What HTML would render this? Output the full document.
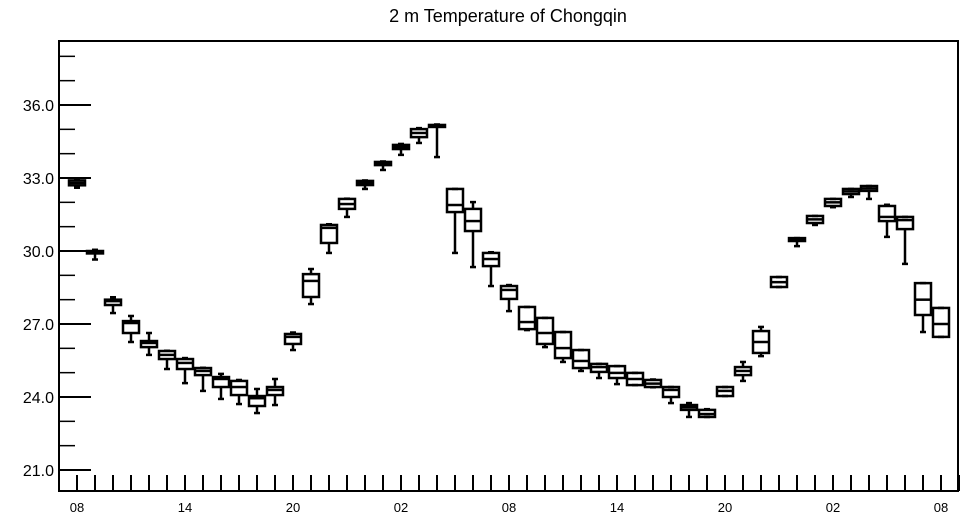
<!DOCTYPE html>
<html><head><meta charset="utf-8"><style>
body{margin:0;background:#fff}
svg{display:block;font-family:"Liberation Sans",Arial,sans-serif}
</style></head><body>
<svg id="chart" width="964" height="520">
<text x="508" y="22" text-anchor="middle" font-size="18">2 m Temperature of Chongqin</text>
<rect x="59" y="41" width="899" height="450" fill="none" stroke="#000" stroke-width="2"/>
<g id="axes"></g>
<g id="boxes"></g>
</svg>
<script>
const hours=[0,1,2,3,4,5,6,7,8,9,10,11,12,13,14,15,16,17,18,19,20,21,22,23,24,25,26,27,28,29,30,31,32,33,34,35,36,37,38,39,40,41,42,43,44,45,46,47,48];
const maxV=[32.95,30.05,28.1,27.33,26.63,25.9,25.6,25.2,24.95,24.7,24.33,24.74,26.65,29.26,31.1,32.15,32.9,33.68,34.4,35.05,35.2,32.55,32.01,29.95,28.6,27.7,27.25,26.67,25.93,25.36,25.27,24.99,24.72,24.41,23.75,23.5,24.41,25.44,26.88,28.93,30.53,31.44,32.14,32.55,32.67,31.9,31.4,28.68,27.66];
const q3V=[32.9,30.0,28.0,27.12,26.3,25.89,25.56,25.19,24.82,24.66,24.04,24.41,26.59,29.05,31.07,32.14,32.88,33.66,34.36,35.01,35.18,32.55,31.73,29.92,28.56,27.7,27.25,26.67,25.93,25.36,25.27,24.99,24.7,24.41,23.67,23.47,24.41,25.23,26.71,28.93,30.53,31.44,32.14,32.55,32.67,31.85,31.4,28.68,27.66];
const medV=[32.8,29.95,27.94,27.04,26.22,25.73,25.4,25.07,24.74,24.41,23.95,24.29,26.47,28.77,30.95,31.93,32.8,33.6,34.28,34.85,35.15,31.89,31.23,29.67,28.4,27.08,26.63,26.01,25.48,25.23,24.99,24.74,24.55,24.29,23.58,23.3,24.25,25.07,26.26,28.72,30.47,31.3,32.0,32.45,32.57,31.4,31.27,28.0,27.0];
const q1V=[32.7,29.9,27.78,26.63,26.05,25.56,25.15,24.9,24.41,24.08,23.63,24.08,26.18,28.11,30.33,31.73,32.71,33.53,34.19,34.68,35.1,31.6,30.82,29.38,28.03,26.79,26.18,25.6,25.19,25.03,24.78,24.49,24.41,24.0,23.47,23.18,24.04,24.9,25.81,28.52,30.41,31.15,31.85,32.34,32.47,31.23,30.9,27.37,26.47];
const minV=[32.6,29.65,27.45,26.26,25.73,25.15,24.57,24.25,23.92,23.71,23.34,23.67,25.93,27.82,29.92,31.4,32.55,33.33,33.95,34.44,33.86,29.92,29.34,28.56,27.53,26.75,26.05,25.44,25.07,24.78,24.53,24.49,24.4,23.75,23.18,23.18,24.04,24.66,25.68,28.52,30.2,31.07,31.8,32.22,32.14,30.58,29.47,26.67,26.47];
const xLabels=["08","14","20","02","08","14","20","02","08"];
const yMajor=[21,24,27,30,33,36];
const NS="http://www.w3.org/2000/svg";
const xs=h=>77+h*18;
const ys=v=>470-(v-21)*(365/15);
function mk(tag,attrs,parent){const e=document.createElementNS(NS,tag);for(const k in attrs)e.setAttribute(k,attrs[k]);parent.appendChild(e);return e;}
const ax=document.getElementById('axes');
for(let v=22;v<=38;v++){if(yMajor.includes(v))continue;
 const t=mk('line',{x1:59,x2:75,y1:ys(v),y2:ys(v),stroke:'#000','stroke-width':1.5},ax);
 
 }
yMajor.forEach(v=>{
 const t=mk('line',{x1:59,x2:91,y1:ys(v),y2:ys(v),stroke:'#000','stroke-width':2},ax);
 
 
 const l=mk('text',{x:54,y:ys(v)+6,'text-anchor':'end','font-size':16},ax);
 l.textContent=v.toFixed(1);
 
 });
for(let h=0;h<=49;h++){
 const t=mk('line',{x1:xs(h),x2:xs(h),y1:475,y2:491,stroke:'#000','stroke-width':2},ax);
 
 }
xLabels.forEach((s,i)=>{
 const l=mk('text',{x:xs(i*6),y:512,'text-anchor':'middle','font-size':13},ax);
 l.textContent=s;
 
 });
const bx=document.getElementById('boxes');
hours.forEach((h,i)=>{
 const g=mk('g',{stroke:'#000','stroke-width':2.5,fill:'none'},bx);
 
 
 const x=xs(h);
 mk('line',{x1:x,x2:x,y1:ys(maxV[i]),y2:ys(q3V[i])},g);
 mk('line',{x1:x,x2:x,y1:ys(q1V[i]),y2:ys(minV[i])},g);
 mk('line',{x1:x-3,x2:x+3,y1:ys(maxV[i]),y2:ys(maxV[i])},g);
 mk('line',{x1:x-3,x2:x+3,y1:ys(minV[i]),y2:ys(minV[i])},g);
 const top=ys(q3V[i]),bot=ys(q1V[i]);
 mk('rect',{x:x-8,y:top,width:16,height:Math.max(bot-top,2)},g);
 mk('line',{x1:x-8,x2:x+8,y1:ys(medV[i]),y2:ys(medV[i])},g);
});
</script>
</body></html>
